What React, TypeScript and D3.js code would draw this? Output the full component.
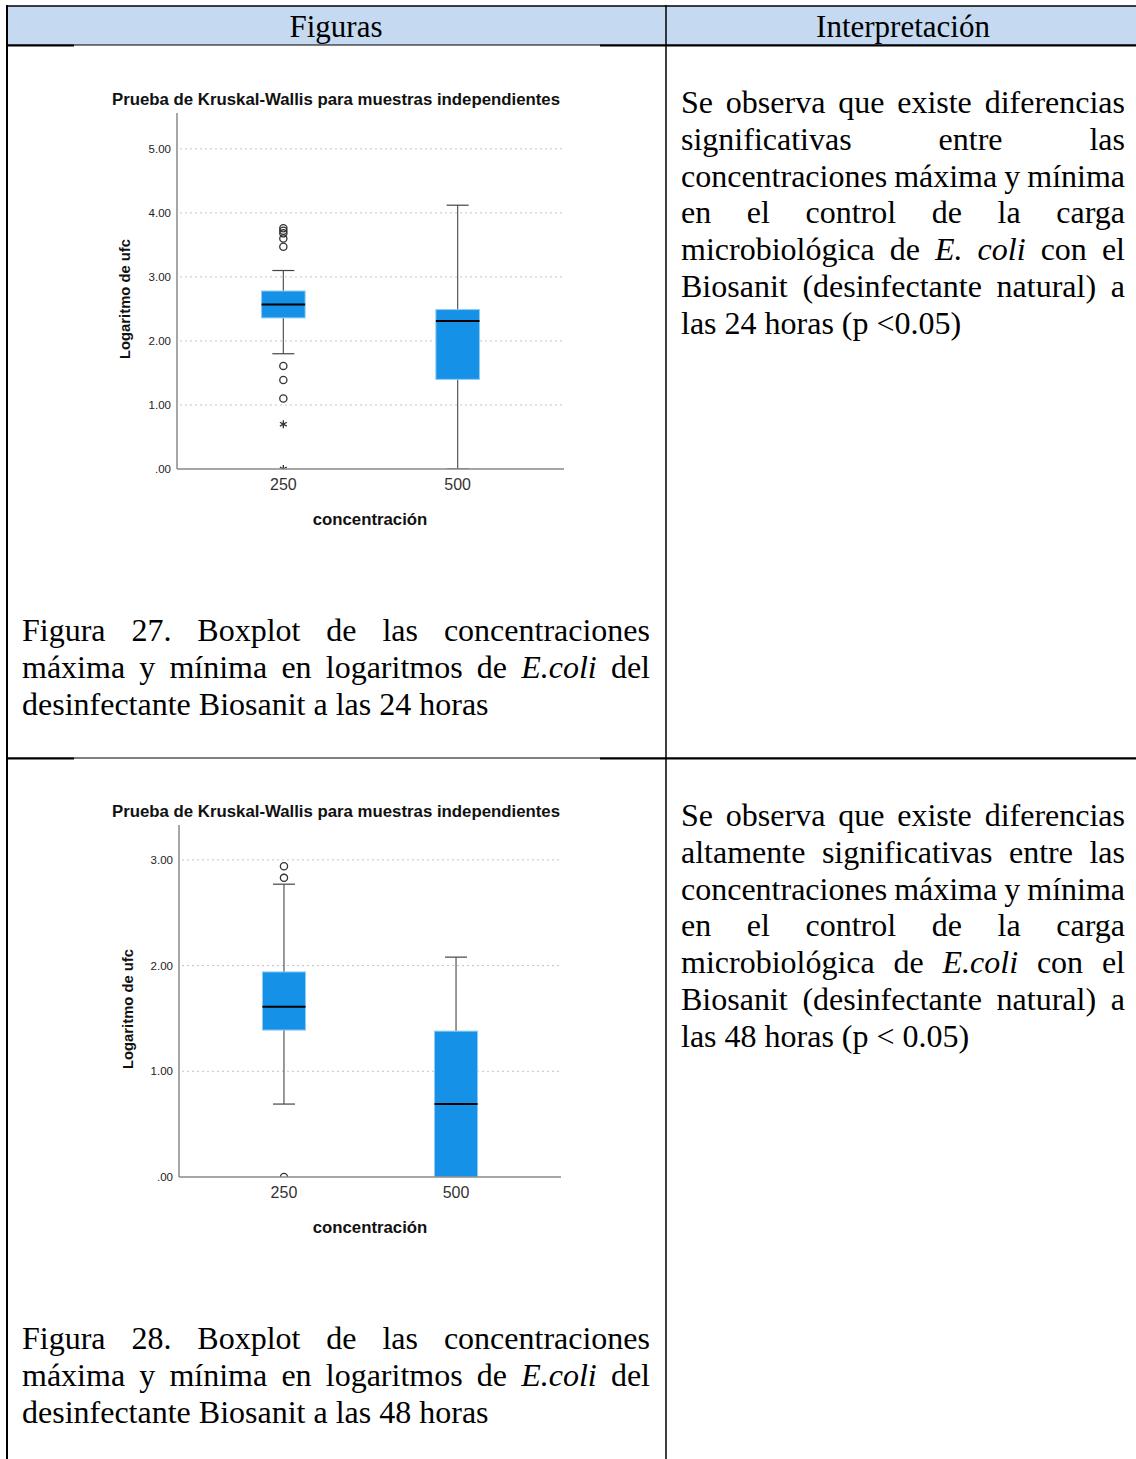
import { useEffect, useRef } from 'react';
import * as d3 from 'd3';

// categories shared by both boxplots
const categories = ['250', '500'];

// Figura 27 (24 horas)
const q1_24 = [2.36, 1.40];
const median_24 = [2.57, 2.31];
const q3_24 = [2.78, 2.49];
const whiskLow_24 = [1.80, 0.0];
const whiskHigh_24 = [3.10, 4.12];
const outliers_24 = [
  { cat: '250', value: 3.76, kind: 'circle' },
  { cat: '250', value: 3.72, kind: 'circle' },
  { cat: '250', value: 3.68, kind: 'circle' },
  { cat: '250', value: 3.60, kind: 'circle' },
  { cat: '250', value: 3.47, kind: 'circle' },
  { cat: '250', value: 1.61, kind: 'circle' },
  { cat: '250', value: 1.39, kind: 'circle' },
  { cat: '250', value: 1.10, kind: 'circle' },
  { cat: '250', value: 0.70, kind: 'star' },
  { cat: '250', value: 0.0, kind: 'star' },
];
const ticks_24 = [0, 1, 2, 3, 4, 5];

// Figura 28 (48 horas)
const q1_48 = [1.39, 0.0];
const median_48 = [1.61, 0.69];
const q3_48 = [1.94, 1.38];
const whiskLow_48 = [0.69, 0.0];
const whiskHigh_48 = [2.77, 2.08];
const outliers_48 = [
  { cat: '250', value: 2.94, kind: 'circle' },
  { cat: '250', value: 2.83, kind: 'circle' },
  { cat: '250', value: 0.0, kind: 'circle' },
];
const ticks_48 = [0, 1, 2, 3];

const chartTitle = 'Prueba de Kruskal-Wallis para muestras independientes';
const yLabel = 'Logaritmo de ufc';
const xLabel = 'concentración';

// texts of the table (tokens starting with ~ are italic)
const interp1 = [
  'Se observa que existe diferencias',
  'significativas entre las',
  'concentraciones máxima y mínima',
  'en el control de la carga',
  'microbiológica de ~E. ~coli con el',
  'Biosanit (desinfectante natural) a',
  'las 24 horas (p <0.05)',
];
const interp2 = [
  'Se observa que existe diferencias',
  'altamente significativas entre las',
  'concentraciones máxima y mínima',
  'en el control de la carga',
  'microbiológica de ~E.coli con el',
  'Biosanit (desinfectante natural) a',
  'las 48 horas (p < 0.05)',
];
const caption1 = [
  'Figura 27. Boxplot de las concentraciones',
  'máxima y mínima en logaritmos de ~E.coli del',
  'desinfectante Biosanit a las 24 horas',
];
const caption2 = [
  'Figura 28. Boxplot de las concentraciones',
  'máxima y mínima en logaritmos de ~E.coli del',
  'desinfectante Biosanit a las 48 horas',
];

const SERIF = '"Liberation Serif", "Times New Roman", serif';
const SANS = '"Liberation Sans", Arial, sans-serif';

const W = 1136;
const H = 1459;

interface ChartCfg {
  left: number;
  right: number;
  top: number;
  bottom: number;
  yMax: number;
  ticks: number[];
  q1: number[];
  median: number[];
  q3: number[];
  lo: number[];
  hi: number[];
  outliers: { cat: string; value: number; kind: string }[];
  titleY: number;
  catY: number;
  xLabelY: number;
  yLabelX: number;
  id: string;
}

function drawChart(svg: d3.Selection<SVGSVGElement, unknown, null, undefined>, c: ChartCfg) {
  const g = svg.append('g');
  const x = d3.scalePoint<string>().domain(categories).range([c.left, c.right]).padding(0.61);
  const y = d3.scaleLinear().domain([0, c.yMax]).range([c.bottom, c.top]);
  const bw = x.step() * 0.25;

  // title
  g.append('text')
    .attr('x', 336)
    .attr('y', c.titleY)
    .attr('text-anchor', 'middle')
    .attr('font-family', SANS)
    .attr('font-weight', 'bold')
    .attr('font-size', '16.8px')
    .attr('fill', '#111')
    .text(chartTitle);

  // gridlines
  g.selectAll('.grid')
    .data(c.ticks.filter(t => t > 0))
    .enter()
    .append('line')
    .attr('x1', c.left + 3)
    .attr('x2', c.right)
    .attr('y1', d => y(d))
    .attr('y2', d => y(d))
    .attr('stroke', '#c4c4c4')
    .attr('stroke-width', 1)
    .attr('stroke-dasharray', '2,3');

  // tick labels
  g.selectAll('.tick')
    .data(c.ticks)
    .enter()
    .append('text')
    .attr('x', c.left - 6)
    .attr('y', d => y(d) + 4)
    .attr('text-anchor', 'end')
    .attr('font-family', SANS)
    .attr('font-size', '11.5px')
    .attr('fill', '#222')
    .text(d => (d === 0 ? '.00' : d3.format('.2f')(d)));

  // y label
  g.append('text')
    .attr('transform', `translate(${c.yLabelX},${(c.top + c.bottom) / 2 + 8}) rotate(-90)`)
    .attr('text-anchor', 'middle')
    .attr('dominant-baseline', 'central')
    .attr('font-family', SANS)
    .attr('font-weight', 'bold')
    .attr('font-size', '14.8px')
    .attr('fill', '#111')
    .text(yLabel);

  // clip for plot area
  svg.append('defs')
    .append('clipPath')
    .attr('id', c.id)
    .append('rect')
    .attr('x', c.left)
    .attr('y', c.top)
    .attr('width', c.right - c.left)
    .attr('height', c.bottom - c.top);

  const plot = g.append('g').attr('clip-path', `url(#${c.id})`);

  categories.forEach((cat, i) => {
    const cx = x(cat) as number;
    // whiskers
    plot.append('line')
      .attr('x1', cx).attr('x2', cx)
      .attr('y1', y(c.hi[i])).attr('y2', y(c.q3[i]))
      .attr('stroke', '#555').attr('stroke-width', 1.2);
    plot.append('line')
      .attr('x1', cx).attr('x2', cx)
      .attr('y1', y(c.q1[i])).attr('y2', y(c.lo[i]))
      .attr('stroke', '#555').attr('stroke-width', 1.2);
    [c.hi[i], c.lo[i]].forEach(v => {
      plot.append('line')
        .attr('x1', cx - 11).attr('x2', cx + 11)
        .attr('y1', y(v)).attr('y2', y(v))
        .attr('stroke', '#444').attr('stroke-width', 1.2);
    });
    // box
    plot.append('rect')
      .attr('x', cx - bw / 2)
      .attr('y', y(c.q3[i]))
      .attr('width', bw)
      .attr('height', y(c.q1[i]) - y(c.q3[i]))
      .attr('fill', '#1591e8')
      .attr('stroke', '#8fcaf4')
      .attr('stroke-width', 1);
    // median
    plot.append('line')
      .attr('x1', cx - bw / 2).attr('x2', cx + bw / 2)
      .attr('y1', y(c.median[i])).attr('y2', y(c.median[i]))
      .attr('stroke', '#000').attr('stroke-width', 2);
  });

  // outliers
  c.outliers.forEach(o => {
    const cx = x(o.cat) as number;
    if (o.kind === 'circle') {
      plot.append('circle')
        .attr('cx', cx).attr('cy', y(o.value)).attr('r', 3.6)
        .attr('fill', 'none').attr('stroke', '#333').attr('stroke-width', 1.3);
    } else {
      plot.append('path')
        .attr('d', d3.symbol(d3.symbolAsterisk, 44)() as string)
        .attr('transform', `translate(${cx},${y(o.value)})`)
        .attr('fill', 'none').attr('stroke', '#333').attr('stroke-width', 1.3);
    }
  });

  // axes
  g.append('line')
    .attr('x1', c.left).attr('x2', c.left)
    .attr('y1', c.top).attr('y2', c.bottom)
    .attr('stroke', '#888').attr('stroke-width', 1.5);
  g.append('line')
    .attr('x1', c.left).attr('x2', c.right)
    .attr('y1', c.bottom).attr('y2', c.bottom)
    .attr('stroke', '#888').attr('stroke-width', 1.5);

  // category labels
  g.selectAll('.cat')
    .data(categories)
    .enter()
    .append('text')
    .attr('x', d => x(d) as number)
    .attr('y', c.catY)
    .attr('text-anchor', 'middle')
    .attr('font-family', SANS)
    .attr('font-size', '16px')
    .attr('fill', '#333')
    .text(d => d);

  g.append('text')
    .attr('x', 370)
    .attr('y', c.xLabelY)
    .attr('text-anchor', 'middle')
    .attr('font-family', SANS)
    .attr('font-weight', 'bold')
    .attr('font-size', '16.8px')
    .attr('fill', '#111')
    .text(xLabel);
}

function drawJustified(
  svg: d3.Selection<SVGSVGElement, unknown, null, undefined>,
  lines: string[],
  x0: number,
  x1: number,
  y0: number,
  lh: number,
  fs: number
) {
  const g = svg.append('g')
    .attr('font-family', SERIF)
    .attr('font-size', `${fs}px`)
    .attr('fill', '#000');
  lines.forEach((line, li) => {
    const words = line.split(' ').filter(w => w.length);
    const nodes = words.map(w => {
      const italic = w.startsWith('~');
      const t = g.append('text')
        .attr('y', y0 + li * lh)
        .attr('font-style', italic ? 'italic' : 'normal')
        .text(italic ? w.slice(1) : w);
      return t;
    });
    const widths = nodes.map(n => (n.node() as SVGTextElement).getComputedTextLength());
    const total = d3.sum(widths);
    const last = li === lines.length - 1;
    const gap = last || words.length < 2 ? fs * 0.25 : (x1 - x0 - total) / (words.length - 1);
    let cx = x0;
    nodes.forEach((n, i) => {
      n.attr('x', cx);
      cx += widths[i] + gap;
    });
  });
}

export default function App() {
  const svgRef = useRef<SVGSVGElement>(null);

  useEffect(() => {
    if (!svgRef.current) return;
    const svg = d3.select(svgRef.current);
    svg.selectAll('*').remove();

    svg.append('rect').attr('width', W).attr('height', H).attr('fill', '#fff');

    // header
    svg.append('rect')
      .attr('x', 7).attr('y', 6).attr('width', W - 7).attr('height', 39)
      .attr('fill', '#c5d9f1');
    svg.append('text')
      .attr('x', 336).attr('y', 37)
      .attr('text-anchor', 'middle')
      .attr('font-family', SERIF).attr('font-size', '31px')
      .text('Figuras');
    svg.append('text')
      .attr('x', 903).attr('y', 37)
      .attr('text-anchor', 'middle')
      .attr('font-family', SERIF).attr('font-size', '31px')
      .text('Interpretación');

    // table lines
    const border = svg.append('g').attr('stroke', '#000');
    border.append('line').attr('x1', 6).attr('x2', W).attr('y1', 6).attr('y2', 6).attr('stroke-width', 1.5);
    border.append('line').attr('x1', 7).attr('x2', 7).attr('y1', 5).attr('y2', H).attr('stroke-width', 2);
    border.append('line').attr('x1', 666).attr('x2', 666).attr('y1', 5).attr('y2', H).attr('stroke-width', 1.5);
    [45, 758].forEach(yy => {
      border.append('line').attr('x1', 7).attr('x2', W).attr('y1', yy).attr('y2', yy).attr('stroke-width', 1.2);
      border.append('line').attr('x1', 7).attr('x2', 74).attr('y1', yy + 0.5).attr('y2', yy + 0.5).attr('stroke-width', 2);
      border.append('line').attr('x1', 600).attr('x2', W).attr('y1', yy + 0.5).attr('y2', yy + 0.5).attr('stroke-width', 2);
    });

    drawChart(svg, {
      left: 177, right: 564, top: 113, bottom: 469, yMax: 5.56, ticks: ticks_24,
      q1: q1_24, median: median_24, q3: q3_24, lo: whiskLow_24, hi: whiskHigh_24,
      outliers: outliers_24, titleY: 105, catY: 490, xLabelY: 525, yLabelX: 125, id: 'clip24',
    });
    drawChart(svg, {
      left: 179, right: 561, top: 825, bottom: 1177, yMax: 3.33, ticks: ticks_48,
      q1: q1_48, median: median_48, q3: q3_48, lo: whiskLow_48, hi: whiskHigh_48,
      outliers: outliers_48, titleY: 817, catY: 1198, xLabelY: 1233, yLabelX: 128, id: 'clip48',
    });

    drawJustified(svg, caption1, 22, 650, 641, 37, 32);
    drawJustified(svg, caption2, 22, 650, 1349, 37, 32);
    drawJustified(svg, interp1, 681, 1125, 113, 36.8, 32);
    drawJustified(svg, interp2, 681, 1125, 826, 36.8, 32);
  }, []);

  return (
    <div style={{ position: 'absolute', left: 0, top: 0, width: W, height: H, overflow: 'hidden' }}>
      <svg ref={svgRef} width={W} height={H} style={{ display: 'block' }} />
    </div>
  );
}
